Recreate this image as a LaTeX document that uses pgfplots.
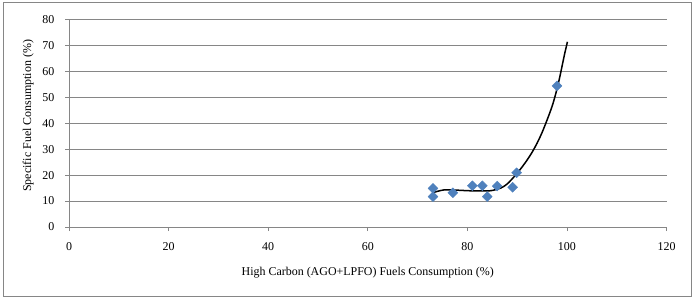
\documentclass[border=0pt]{standalone}
\usepackage{pgfplots}
\pgfplotsset{compat=1.18}
\usepackage{fontspec}
\setmainfont{Liberation Serif}
\definecolor{exblue}{HTML}{4F81BD}
\definecolor{exgray}{HTML}{868686}
\begin{document}
\fontsize{12}{14}\selectfont
\begin{tikzpicture}[x=1bp,y=1bp]
\useasboundingbox (0,0) rectangle (698,299);
\draw[exgray, line width=0.75bp] (3,3) rectangle (691,297);
\begin{axis}[
  at={(69bp,72bp)}, anchor=south west,
  scale only axis, width=597.5bp, height=207.5bp,
  xmin=0, xmax=120, ymin=0, ymax=80,
  xtick={0,20,...,120}, ytick={0,10,...,80},
  axis x line=bottom, axis y line=left,
  axis line style={exgray, line width=0.75bp, -},
  tick style={exgray, line width=0.75bp},
  tick align=outside, major tick length=4bp,
  ymajorgrids, grid style={exgray, line width=0.75bp},
  /pgf/number format/assume math mode=true,
  tick label style={font=\fontsize{12}{14}\selectfont, black},
  xticklabel style={yshift=-7.5bp},
  yticklabel style={xshift=-6.5bp},
  xlabel={High Carbon (AGO+LPFO) Fuels Consumption (\%)},
  ylabel={Specific Fuel Consumption (\%)},
  label style={font=\fontsize{12}{14}\selectfont},
  xlabel style={at={(axis description cs:0.5,0)}, anchor=base, yshift=-48bp},
  ylabel style={at={(axis description cs:-0.0636,0.536)}, anchor=base},
  clip=false,
]
\addplot[only marks, mark=square*, mark size=3.5bp, mark options={rotate=45, fill=exblue, draw=exblue}]
coordinates {
(73.1,14.9) (73.1,11.7) (77.1,13.2) (81.0,15.9) (83.0,15.9)
(84.0,11.7) (86.0,15.8) (89.1,15.3) (89.9,20.9) (98.0,54.4)
};
\addplot[black, line width=1.5bp, smooth, no marks]
coordinates {
(73,13.2) (75.3,14.3) (78,14.2) (80,14.0) (82.5,13.9) (84.7,14.0) (86.7,15.0)
(88,16.6) (89.4,19.4) (90.7,22.4) (92.0,25.8) (93,28.8) (94.0,32.3) (95,36.4) (96.0,41.2)
(97,46.4) (97.7,51.0) (98.4,56.4) (99.0,61.8) (99.5,66.4) (100.1,71.4)
};
\end{axis}
\end{tikzpicture}
\end{document}
